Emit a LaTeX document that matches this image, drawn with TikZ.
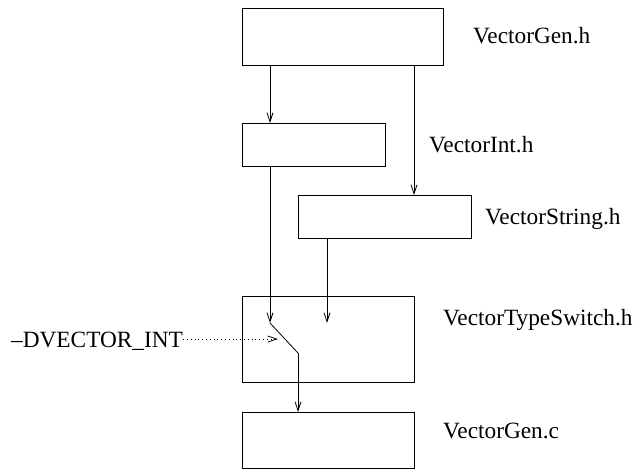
\documentclass[tikz,border=0pt]{standalone}
\usepackage{fontspec}
\setmainfont{Liberation Serif}
\usetikzlibrary{arrows.meta}
\begin{document}
\begin{tikzpicture}[x=1pt,y=-1pt,
  box/.style={draw, line width=0.8pt, inner sep=0pt, anchor=north west},
  arr/.style={line width=0.8pt, -{Straight Barb[length=9pt,width=6pt,line width=0.8pt]}},
  lbl/.style={anchor=base west, inner sep=0pt, font=\fontsize{23.3}{28}\selectfont},
  dotarr/.style={line width=0.8pt, dash pattern=on 0.8pt off 3pt, -{Straight Barb[length=9pt,width=6pt,line width=0.8pt]}}]
\useasboundingbox (0,0) rectangle (636,472);
% boxes
\node[box, minimum width=201pt, minimum height=57pt] (gen) at (242,8) {};
\node[box, minimum width=143pt, minimum height=43pt] (int) at (242,123) {};
\node[box, minimum width=173pt, minimum height=43pt] (str) at (298,195) {};
\node[box, minimum width=172pt, minimum height=86pt] (sw) at (242,296) {};
\node[box, minimum width=172pt, minimum height=56pt] (genc) at (242,412) {};
% labels
\node[lbl] (lgen) at (473,43) {VectorGen.h};
\node[lbl] (lint) at (429,152) {VectorInt.h};
\node[lbl] (lstr) at (485,224) {VectorString.h};
\node[lbl] (lsw) at (443,325) {VectorTypeSwitch.h};
\node[lbl] (lgenc) at (443,438) {VectorGen.c};
\node[lbl] (dv) at (11,347) {–DVECTOR\_INT};
% helper coordinates
\coordinate (xa) at (270,0);
\coordinate (xb) at (414,0);
\coordinate (xc) at (327,0);
\coordinate (sw1) at (270,323);
\coordinate (sw2) at (298,353);
\coordinate (sw3) at (327,323);
\coordinate (dvend) at (278,339);
% connectors
\draw[arr] (gen.south -| xa) -- (int.north -| xa);
\draw[arr] (gen.south -| xb) -- (str.north -| xb);
\draw[arr] (int.south -| xa) -- (sw1);
\draw[arr] (str.south -| xc) -- (sw3);
\draw[line width=0.8pt] (sw1) -- (sw2);
\draw[arr] (sw2) -- (genc.north -| sw2);
\draw[dotarr] (dv.east |- dvend) -- (dvend);
\end{tikzpicture}
\end{document}
